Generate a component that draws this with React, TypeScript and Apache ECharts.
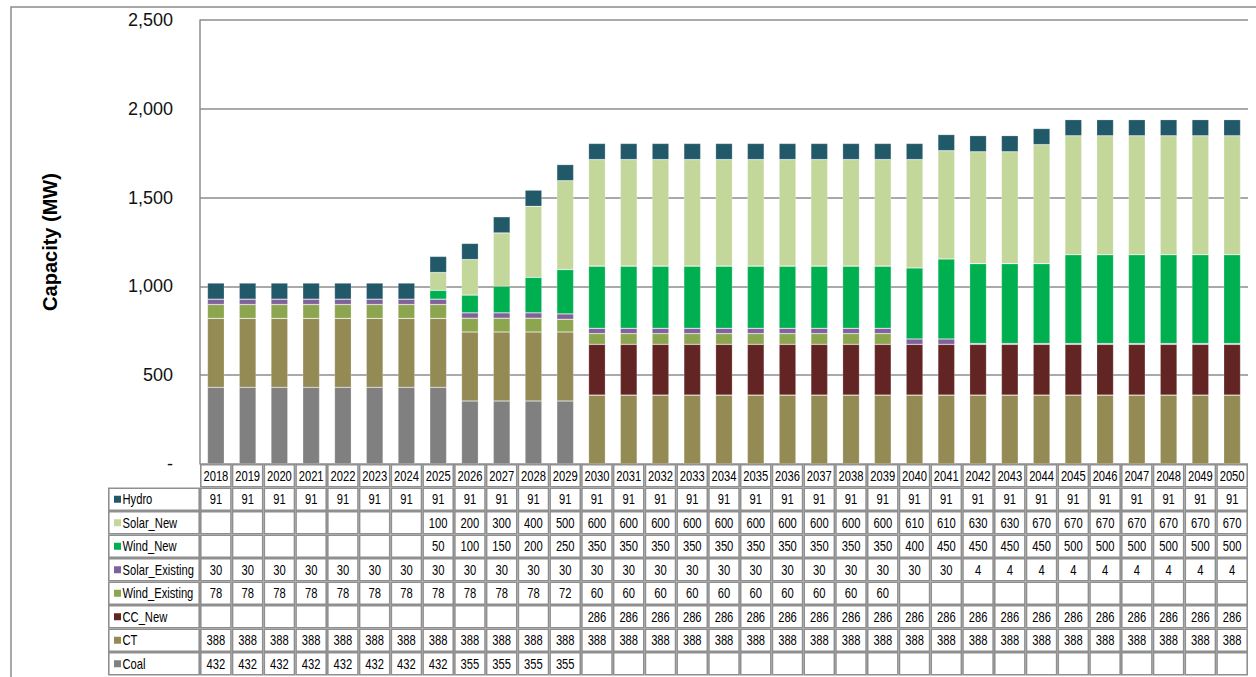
import React, { useEffect, useRef } from 'react';
import * as echarts from 'echarts';

const years = ['2018','2019','2020','2021','2022','2023','2024','2025','2026','2027','2028','2029','2030','2031','2032','2033','2034','2035','2036','2037','2038','2039','2040','2041','2042','2043','2044','2045','2046','2047','2048','2049','2050'];

const coal = [432,432,432,432,432,432,432,432,355,355,355,355,null,null,null,null,null,null,null,null,null,null,null,null,null,null,null,null,null,null,null,null,null];
const ct = [388,388,388,388,388,388,388,388,388,388,388,388,388,388,388,388,388,388,388,388,388,388,388,388,388,388,388,388,388,388,388,388,388];
const ccNew = [null,null,null,null,null,null,null,null,null,null,null,null,286,286,286,286,286,286,286,286,286,286,286,286,286,286,286,286,286,286,286,286,286];
const windExisting = [78,78,78,78,78,78,78,78,78,78,78,72,60,60,60,60,60,60,60,60,60,60,null,null,null,null,null,null,null,null,null,null,null];
const solarExisting = [30,30,30,30,30,30,30,30,30,30,30,30,30,30,30,30,30,30,30,30,30,30,30,30,4,4,4,4,4,4,4,4,4];
const windNew = [null,null,null,null,null,null,null,50,100,150,200,250,350,350,350,350,350,350,350,350,350,350,400,450,450,450,450,500,500,500,500,500,500];
const solarNew = [null,null,null,null,null,null,null,100,200,300,400,500,600,600,600,600,600,600,600,600,600,600,610,610,630,630,670,670,670,670,670,670,670];
const hydro = [91,91,91,91,91,91,91,91,91,91,91,91,91,91,91,91,91,91,91,91,91,91,91,91,91,91,91,91,91,91,91,91,91];

const yTicks = [0, 500, 1000, 1500, 2000, 2500];

// stacking order bottom -> top
const seriesDefs = [
  { name: 'Coal', data: coal, color: '#808080' },
  { name: 'CT', data: ct, color: '#948a54' },
  { name: 'CC_New', data: ccNew, color: '#632523' },
  { name: 'Wind_Existing', data: windExisting, color: '#8ba64f' },
  { name: 'Solar_Existing', data: solarExisting, color: '#7f619b' },
  { name: 'Wind_New', data: windNew, color: '#00b050' },
  { name: 'Solar_New', data: solarNew, color: '#c4d79b' },
  { name: 'Hydro', data: hydro, color: '#215968' },
];

const FONT = 'Liberation Sans, Arial, sans-serif';
const GRID_COLOR = '#8c8c8c';

export default function App() {
  const ref = useRef<HTMLDivElement>(null);
  useEffect(() => {
    document.body.style.margin = '0';
    const chart = echarts.init(ref.current!, undefined, { renderer: 'svg' });
    const option: any = {
      animation: false,
      grid: { left: 200, right: 8, top: 20, bottom: 213 },
      xAxis: {
        type: 'category',
        data: years,
        axisLine: { show: false },
        axisTick: { show: false },
        axisLabel: { show: false },
      },
      yAxis: {
        type: 'value',
        min: yTicks[0],
        max: yTicks[yTicks.length - 1],
        interval: 500,
        name: 'Capacity (MW)',
        nameLocation: 'middle',
        nameGap: 140,
        nameRotate: 90,
        nameTextStyle: { fontFamily: FONT, fontSize: 20, fontWeight: 'bold', color: '#000' },
        axisLine: { show: true, lineStyle: { color: GRID_COLOR, width: 1.5 } },
        axisTick: { show: false },
        axisLabel: {
          margin: 27,
          fontFamily: FONT,
          fontSize: 18,
          color: '#111',
          formatter: (v: number) => (v === 0 ? '-' : v.toLocaleString('en-US')),
        },
        splitLine: { show: true, lineStyle: { color: GRID_COLOR, width: 1.5 } },
      },
      series: seriesDefs.map((s) => ({
        name: s.name,
        type: 'bar',
        stack: 'cap',
        data: s.data,
        barWidth: '53%',
        itemStyle: { color: s.color, borderColor: 'rgba(255,255,255,0.35)', borderWidth: 0.6 },
      })),
    };
    chart.setOption(option);

    const x0 = chart.convertToPixel({ xAxisIndex: 0 }, years[0]) as number;
    const x1 = chart.convertToPixel({ xAxisIndex: 0 }, years[1]) as number;
    const cw = x1 - x0;
    const yBase = chart.convertToPixel({ yAxisIndex: 0 }, 0) as number;
    const rh = 23.5;
    const labelLeft = 108;
    const elements: any[] = [];
    const cellStyle = { fill: '#fff', stroke: '#8f8f8f', lineWidth: 1.6 };
    const textStyle = (text: string, x: number, y: number, align = 'center') => ({
      type: 'text',
      silent: true,
      x,
      y: y + 0.5,
      scaleX: 0.8,
      style: { text, x: 0, y: 0, align, verticalAlign: 'middle', fontFamily: FONT, fontSize: 14, fill: '#000' },
    });

    // outer frame
    elements.push({
      type: 'rect',
      silent: true,
      shape: { x: 11, y: 7, width: 1300, height: 700 },
      style: { fill: 'none', stroke: GRID_COLOR, lineWidth: 1.5 },
    });

    // header row (years)
    years.forEach((yr) => {
      const xc = chart.convertToPixel({ xAxisIndex: 0 }, yr) as number;
      elements.push({
        type: 'rect', silent: true,
        shape: { x: xc - cw / 2 + 0.8, y: yBase + 0.8, width: cw - 1.6, height: rh - 1.6 },
        style: cellStyle,
      });
      elements.push(textStyle(yr, xc, yBase + rh / 2));
    });

    // data rows, top -> bottom is reverse of stacking order
    const rows = [...seriesDefs].reverse();
    rows.forEach((s, r) => {
      const top = yBase + rh * (r + 1);
      const yc = top + rh / 2;
      elements.push({
        type: 'rect', silent: true,
        shape: { x: labelLeft + 0.8, y: top + 0.8, width: x0 - cw / 2 - labelLeft - 1.6, height: rh - 1.6 },
        style: cellStyle,
      });
      elements.push({
        type: 'rect', silent: true,
        shape: { x: labelLeft + 6, y: yc - 3.5, width: 7, height: 7 },
        style: { fill: s.color },
      });
      elements.push(textStyle(s.name, labelLeft + 14.5, yc, 'left'));
      years.forEach((yr, i) => {
        const xc = chart.convertToPixel({ xAxisIndex: 0 }, yr) as number;
        elements.push({
          type: 'rect', silent: true,
          shape: { x: xc - cw / 2 + 0.8, y: top + 0.8, width: cw - 1.6, height: rh - 1.6 },
          style: cellStyle,
        });
        const v = s.data[i];
        if (v !== null && v !== undefined) {
          elements.push(textStyle(String(v), xc, yc));
        }
      });
    });

    chart.setOption({ graphic: elements });
    return () => chart.dispose();
  }, []);
  return <div ref={ref} style={{ width: 1256, height: 677 }} />;
}
